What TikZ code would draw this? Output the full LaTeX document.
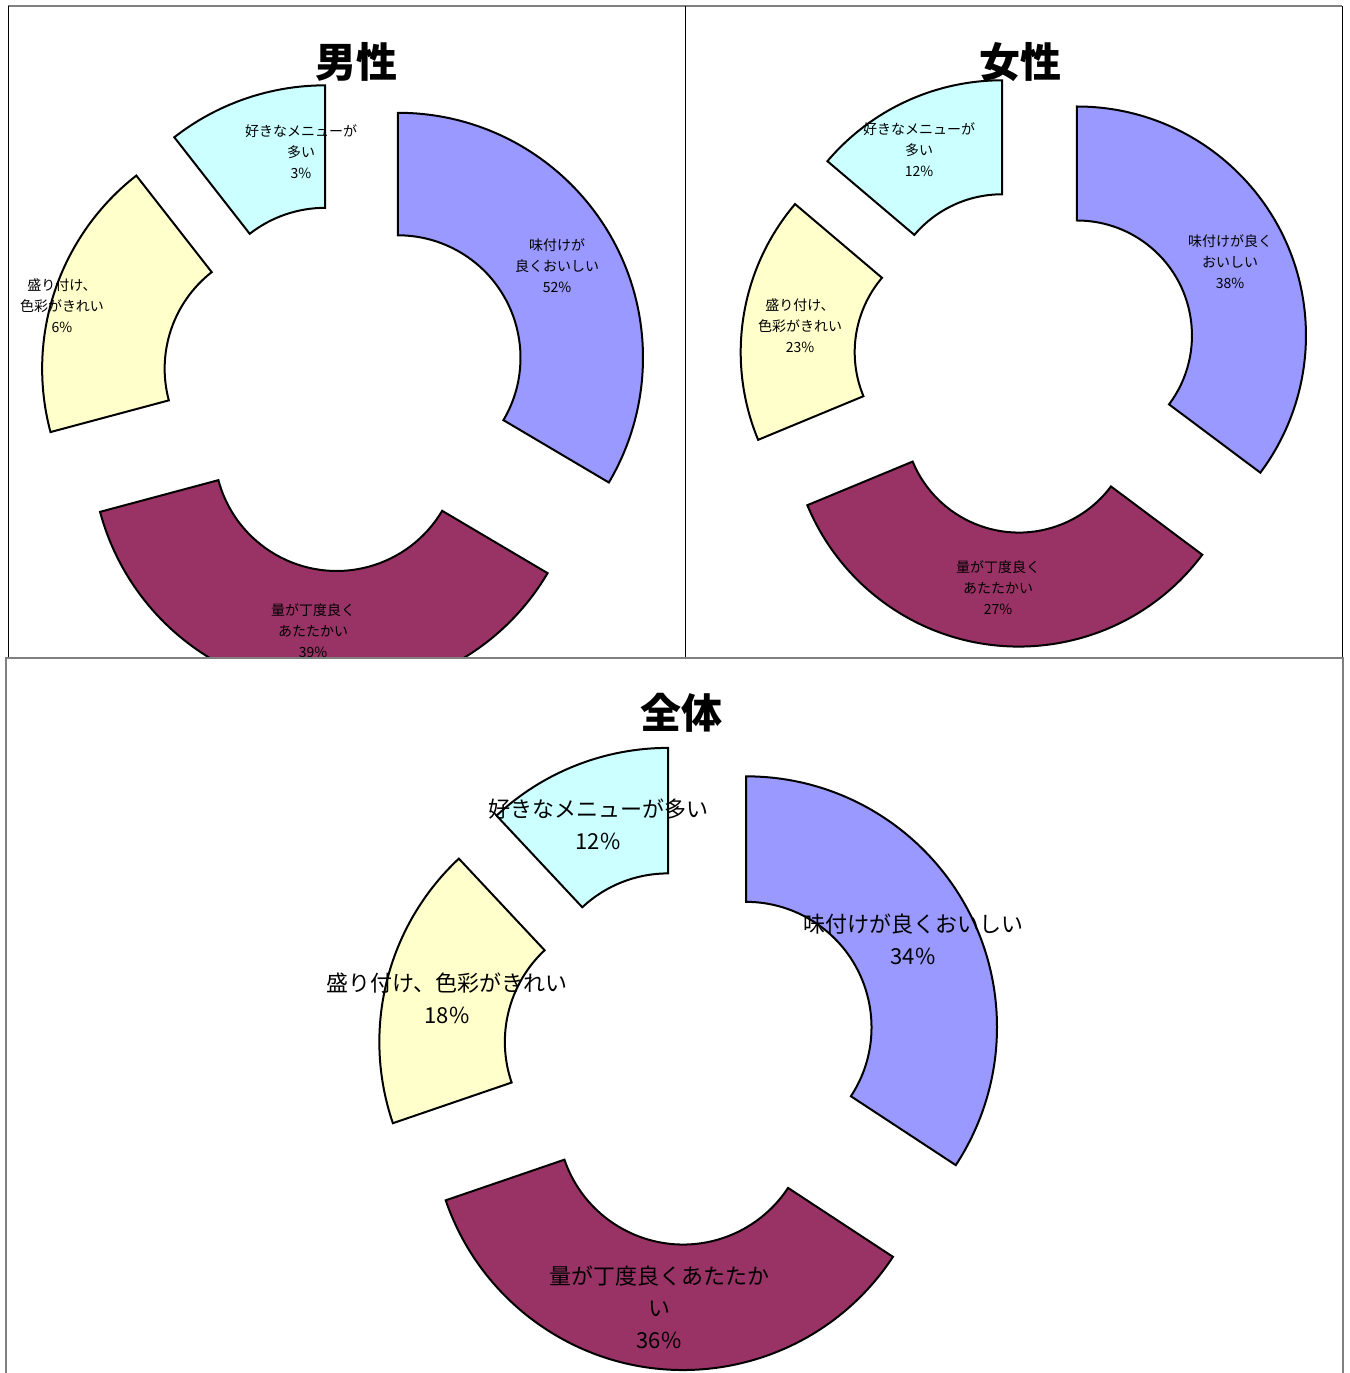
\documentclass[tikz,border=0pt]{standalone}
\usepackage{fontspec}
\setmainfont{Noto Sans CJK JP}
\definecolor{ajicol}{HTML}{9999FF}
\definecolor{ryocol}{HTML}{993366}
\definecolor{moricol}{HTML}{FFFFCC}
\definecolor{sukicol}{HTML}{CCFFFF}
\begin{document}
\begin{tikzpicture}[
        x=0.5pt, y=0.5pt,
        slice/.style={
          draw=black,
          line width=1pt
          },
        frame/.style={
          draw=gray,
          line width=0.75pt
          },
        divider/.style={
          draw=black,
          line width=0.5pt
          },
        title/.style={
          font=\fontsize{20.5}{24}\selectfont\bfseries,
          inner sep=0pt
          },
        lab/.style={
          font=\fontsize{7}{10.5}\selectfont,
          align=center,
          inner sep=0pt
          },
        biglab/.style={
          font=\fontsize{11}{16}\selectfont,
          align=center,
          inner sep=0pt
          }
        ]
        \useasboundingbox[fill=white] (0,0) rectangle (1350,-1373);
        % top panels
        \draw[frame] (8,-6) -- (1342,-6);
        \draw[divider] (8,-6) -- (8,-658);
        \draw[divider] (685,-6) -- (685,-658);
        \draw[divider] (1342,-6) -- (1342,-658);
        % male
        \begin{scope}
        \clip (8,-6) rectangle (685,-658);
        \begin{scope}[shift={(345,-388)}]
        \foreach \sa/\ea/\col in {90/-30.6/ajicol,-30.6/-165/ryocol,-165/-232/moricol,-232/-270/sukicol}
        {\pgfmathsetmacro\midang{(\sa+\ea)/2}
          \draw[slice, fill=\col, shift={(\midang:61)}] (\sa:245) arc[start angle=\sa, end angle=\ea, radius=245]
            -- (\ea:122.5) arc[start angle=\ea, end angle=\sa, radius=122.5] -- cycle;
        }
        \end{scope}
        \node[title] (m-title) at (356,-62) {男性};
        \node[lab] (m-aji) at (557,-266) {味付けが\\良くおいしい\\52\%};
        \node[lab] (m-ryo) at (313,-631) {量が丁度良く\\あたたかい\\39\%};
        \node[lab] (m-mori) at (62,-306) {盛り付け、\\色彩がきれい\\6\%};
        \node[lab] (m-suki) at (301,-152) {好きなメニューが\\多い\\3\%};
        \end{scope}
        % female
        \begin{scope}[shift={(1026,-361)}]
        \foreach \sa/\ea/\col in {90/-36.8/ajicol,-36.8/-157.5/ryocol,-157.5/-220.3/moricol,-220.3/-270/sukicol}
        {\pgfmathsetmacro\midang{(\sa+\ea)/2}
          \draw[slice, fill=\col, shift={(\midang:57)}] (\sa:229) arc[start angle=\sa, end angle=\ea, radius=229]
            -- (\ea:115) arc[start angle=\ea, end angle=\sa, radius=115] -- cycle;
        }
        \end{scope}
        \node[title] (f-title) at (1020,-62) {女性};
        \node[lab] (f-aji) at (1230,-262) {味付けが良く\\おいしい\\38\%};
        \node[lab] (f-ryo) at (998,-588) {量が丁度良く\\あたたかい\\27\%};
        \node[lab] (f-mori) at (800,-326) {盛り付け、\\色彩がきれい\\23\%};
        \node[lab] (f-suki) at (919,-150) {好きなメニューが\\多い\\12\%};
        % all
        \fill[white] (6,-658) rectangle (1343,-1373);
        \draw[frame] (6,-1373) -- (6,-658) -- (1343,-658) -- (1343,-1373);
        \begin{scope}[shift={(691,-1057)}]
        \foreach \sa/\ea/\col in {90/-33.3/ajicol,-33.3/-161.1/ryocol,-161.1/-226.9/moricol,-226.9/-270/sukicol}
        {\pgfmathsetmacro\midang{(\sa+\ea)/2}
          \draw[slice, fill=\col, shift={(\midang:62.5)}] (\sa:251) arc[start angle=\sa, end angle=\ea, radius=251]
            -- (\ea:125.5) arc[start angle=\ea, end angle=\sa, radius=125.5] -- cycle;
        }
        \end{scope}
        \node[title] (a-title) at (681,-713) {全体};
        \node[biglab] (a-aji) at (913,-939) {味付けが良くおいしい\\34\%};
        \node[biglab] (a-ryo) at (659,-1307) {量が丁度良くあたたか\\い\\36\%};
        \node[biglab] (a-mori) at (447,-998) {盛り付け、色彩がきれい\\18\%};
        \node[biglab] (a-suki) at (598,-824) {好きなメニューが多い\\12\%};
\end{tikzpicture}
\end{document}
